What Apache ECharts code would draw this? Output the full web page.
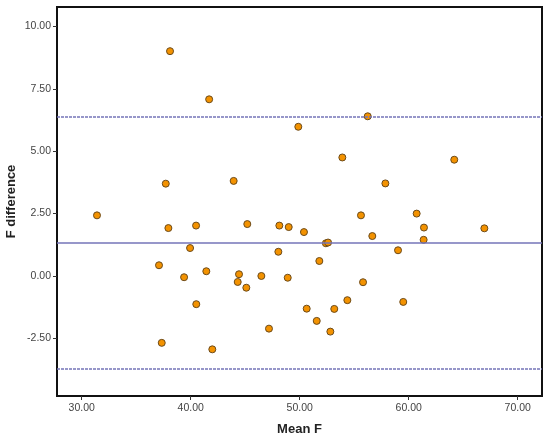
<!DOCTYPE html>
<html>
<head>
<meta charset="utf-8">
<script src="https://cdn.jsdelivr.net/npm/echarts@6/dist/echarts.min.js"></script>
<style>
  html, body { margin: 0; padding: 0; background: #fff; }
  #chart { width: 550px; height: 442px; }
</style>
</head>
<body>
<div id="chart"></div>
<script>
// mean of the two F values (x) and their difference (y)
var meanF = [38.10, 41.69, 49.87, 37.71, 43.94, 56.24, 53.91, 57.86, 64.18,
  31.40, 37.95, 40.49, 45.19, 48.13, 48.99, 39.94, 48.04, 37.09, 41.43, 44.43,
  39.39, 44.31, 46.48, 48.90, 45.10, 40.51, 47.18, 37.34, 41.98,
  50.39, 52.40, 52.60, 55.62, 56.66, 60.73, 61.40, 61.37, 66.94, 51.80, 59.02,
  55.81, 54.37, 59.50, 50.64, 53.17, 51.56, 52.81];
var diffF = [9.01, 7.08, 5.98, 3.70, 3.81, 6.40, 4.75, 3.71, 4.66,
  2.43, 1.92, 2.02, 2.08, 2.02, 1.96, 1.12, 0.97, 0.43, 0.19, 0.07,
  -0.05, -0.24, 0.00, -0.07, -0.47, -1.13, -2.11, -2.68, -2.94,
  1.76, 1.31, 1.34, 2.43, 1.60, 2.50, 1.94, 1.45, 1.91, 0.60, 1.03,
  -0.25, -0.97, -1.04, -1.31, -1.32, -1.80, -2.23];

var xTicks = [30, 40, 50, 60, 70];
var yTicks = [-2.5, 0, 2.5, 5, 7.5, 10];

// mean difference and limits of agreement
var meanDiff = 1.35;
var upperLoA = 6.38;
var lowerLoA = -3.70;

var points = [];
for (var i = 0; i < meanF.length; i++) {
  points.push([meanF[i], diffF[i]]);
}

var lineColor = '#7474b8';
var font = 'Liberation Sans, Arial, sans-serif';

var chart = echarts.init(document.getElementById('chart'));
chart.setOption({
  animation: false,
  grid: {
    left: 57, right: 8, top: 7, bottom: 46,
    containLabel: false,
    outerBoundsMode: 'none',
    show: true, borderColor: '#111', borderWidth: 2
  },
  xAxis: {
    type: 'value',
    min: 27.73, max: 72.23,
    name: 'Mean F',
    nameLocation: 'middle',
    nameGap: 33,
    nameMoveOverlap: false,
    nameTextStyle: { fontFamily: font, fontWeight: 'bold', fontSize: 13, color: '#222', verticalAlign: 'middle' },
    axisLine: { show: false, onZero: false },
    splitLine: { show: false },
    axisTick: { show: true, customValues: xTicks, length: 4, lineStyle: { color: '#333' } },
    axisLabel: {
      customValues: xTicks, fontFamily: font, fontSize: 10.5, color: '#444', margin: 7,
      formatter: function (v) { return v.toFixed(2); }
    }
  },
  yAxis: {
    type: 'value',
    min: -4.81, max: 10.78,
    name: 'F difference',
    nameLocation: 'middle',
    nameGap: 46,
    nameMoveOverlap: false,
    nameTextStyle: { fontFamily: font, fontWeight: 'bold', fontSize: 13, color: '#222', verticalAlign: 'middle' },
    axisLine: { show: false, onZero: false },
    splitLine: { show: false },
    axisTick: { show: true, customValues: yTicks, length: 4, lineStyle: { color: '#333' } },
    axisLabel: {
      customValues: yTicks, fontFamily: font, fontSize: 10.5, color: '#444', margin: 6,
      formatter: function (v) { return v.toFixed(2); }
    }
  },
  series: [{
    type: 'scatter',
    data: points,
    symbolSize: 7,
    itemStyle: { color: '#f39200', borderColor: '#6b4a1a', borderWidth: 1, opacity: 1 },
    markLine: {
      silent: true,
      symbol: 'none',
      label: { show: false },
      data: [
        { yAxis: upperLoA, lineStyle: { color: lineColor, type: [3, 1], width: 1.5 } },
        { yAxis: meanDiff, lineStyle: { color: lineColor, type: 'solid', width: 1.5 } },
        { yAxis: lowerLoA, lineStyle: { color: lineColor, type: [3, 1], width: 1.5 } }
      ]
    },
    z: 3
  }]
});
</script>
</body>
</html>
